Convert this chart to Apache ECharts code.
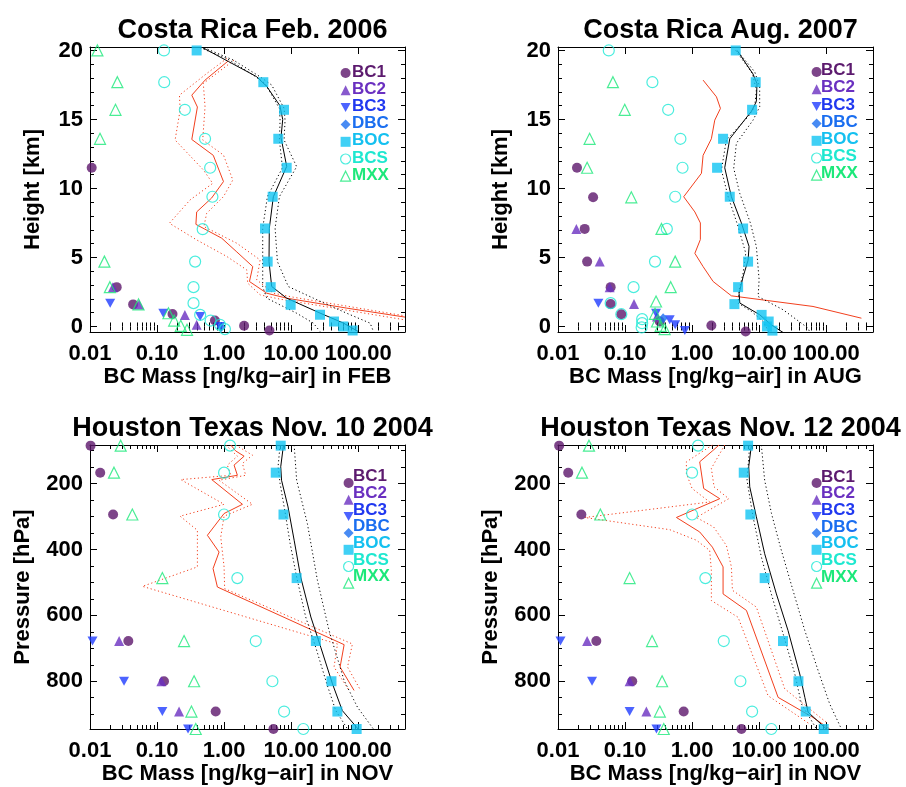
<!DOCTYPE html>
<html><head><meta charset="utf-8">
<script src="https://cdn.jsdelivr.net/npm/echarts@6/dist/echarts.min.js"></script>
<style>html,body{margin:0;padding:0;background:#fff}#c{width:906px;height:787px}</style>
</head><body><div id="c"></div>
<script>
// ---------- tick labels ----------
const X_TICKS = [0.01, 0.1, 1, 10, 100];
const X_MINOR = [0.02,0.03,0.04,0.05,0.06,0.07,0.08,0.09,0.2,0.3,0.4,0.5,0.6,0.7,0.8,0.9,2,3,4,5,6,7,8,9,20,30,40,50,60,70,80,90,200,300,400];
const KM_TICKS = [0, 5, 10, 15, 20];
const KM_MINOR = [1,2,3,4,6,7,8,9,11,12,13,14,16,17,18,19];
const P_TICKS = [200, 400, 600, 800];
const P_MINOR = [100,150,250,300,350,450,500,550,650,700,750,850,900];
const LEGEND_KEYS = ['BC1','BC2','BC3','DBC','BOC','BCS','MXX'];

// ---------- Costa Rica Feb 2006 : [mass, height km] ----------
const TL_BC1 = [[0.0106,11.5],[0.025,2.85],[0.044,1.6],[0.17,0.9],[0.73,0.43],[1.99,0.05],[4.75,-0.29]];
const TL_BC2 = [[0.022,2.85],[0.054,1.6],[0.26,0.84],[0.39,0.12]];
const TL_BC3 = [[0.020,1.69],[0.124,0.96],[0.44,0.72],[0.87,0.0]];
const TL_DBC = [[0.9,-0.05]];
const TL_BOC = [[0.39,20.0],[3.85,17.7],[7.83,15.7],[6.44,13.6],[8.59,11.5],[5.31,9.4],[4.08,7.1],[4.47,4.7],[4.96,2.85],[9.85,1.57],[27,0.85],[43.6,0.36],[60,0.0],[82.8,-0.29]];
const TL_BCS = [[0.127,20.0],[0.128,17.7],[0.26,15.7],[0.52,13.6],[0.62,11.5],[0.67,9.4],[0.48,7.05],[0.37,4.7],[0.35,2.85],[0.35,1.69],[0.44,0.84],[0.63,0.43],[0.87,0.12],[1.03,-0.19]];
const TL_MXX = [[0.0129,20.0],[0.0256,17.7],[0.024,15.7],[0.0141,13.6],[0.0164,4.7],[0.0198,2.85],[0.053,1.6],[0.148,0.96],[0.18,0.43],[0.226,0.05],[0.28,-0.24]];
const TL_MODEL = [[0.48,20.2],[1.16,19.2],[3.06,18.1],[4.32,17.4],[6.8,16.0],[7.5,15.0],[7.06,13.7],[8.6,11.6],[5.43,9.4],[4.73,7.1],[4.68,4.7],[5.13,2.9],[8.6,2.05],[27,0.97],[60,0.25],[100,-0.36]];
const TL_MODEL_LO = [[0.438,20.2],[1.10,19.42],[2.74,18.21],[4.09,17.61],[6.69,15.8],[6.85,14.95],[6.69,13.51],[7.43,11.5],[4.43,9.41],[3.77,7.12],[3.77,4.7],[3.77,2.89],[4.33,2.05],[12.1,0.96],[21.5,0.24],[27.0,-0.36]];
const TL_MODEL_HI = [[0.503,20.2],[1.38,19.3],[3.45,18.09],[5.14,17.49],[7.86,15.8],[8.12,14.95],[7.86,13.51],[12.1,11.58],[6.69,9.41],[5.77,7.12],[6.25,4.7],[9.1,2.89],[21.5,2.05],[67.5,0.96],[151,0.24],[169,-0.36]];
const TL_RED = [[1.16,19.25],[0.52,17.85],[0.33,16.76],[0.40,15.9],[0.33,13.55],[0.69,12.4],[0.98,10.5],[0.65,9.3],[0.39,8.3],[0.38,7.4],[0.92,6.4],[1.55,5.4],[2.68,4.34],[2.39,3.26],[4.33,2.41],[8.6,2.05],[67.6,1.33],[500,0.68]];
const TL_RED_LO = [[1.10,19.42],[0.551,18.33],[0.216,16.76],[0.221,15.68],[0.186,13.51],[0.492,11.34],[0.677,10.37],[0.311,9.17],[0.153,7.48],[0.391,6.27],[1.10,5.07],[2.18,4.10],[2.25,3.14],[3.45,2.29],[6.85,1.98],[500,0.48]];
const TL_RED_HI = [[1.41,19.3],[0.49,17.61],[0.52,15.92],[0.48,13.51],[0.98,12.42],[1.35,10.61],[0.98,9.41],[0.55,8.2],[0.50,7.24],[1.55,6.03],[3.45,4.82],[3.07,3.38],[5.45,2.41],[10.8,2.12],[500,0.77]];

// ---------- Costa Rica Aug 2007 ----------
const TR_BC1 = [[0.0192,11.5],[0.0334,9.36],[0.025,7.07],[0.0272,4.7],[0.061,2.85],[0.061,1.62],[0.088,0.89],[0.33,0.36],[1.94,0.07],[6.3,-0.36]];
const TR_BC2 = [[0.0188,7.07],[0.042,4.7],[0.059,2.85],[0.136,1.62],[0.30,0.72]];
const TR_BC3 = [[0.040,1.69],[0.29,0.96],[0.464,0.48],[0.56,0.12],[0.78,-0.29]];
const TR_DBC = [[0.37,0.6]];
const TR_BOC = [[4.48,20.0],[8.9,17.7],[7.86,15.7],[2.9,13.6],[2.36,11.5],[3.65,9.4],[5.77,7.1],[6.85,4.7],[4.86,2.85],[4.28,1.62],[10.9,0.84],[13.9,0.36],[13.1,0.0],[15.8,-0.3]];
const TR_BCS = [[0.0572,20.0],[0.256,17.7],[0.44,15.7],[0.67,13.6],[0.72,11.5],[0.56,9.4],[0.42,7.07],[0.28,4.7],[0.134,2.85],[0.061,1.69],[0.088,0.89],[0.18,0.53],[0.18,0.24],[0.177,-0.07]];
const TR_MXX = [[0.066,17.7],[0.099,15.7],[0.0296,13.6],[0.0272,11.5],[0.124,9.36],[0.35,7.07],[0.56,4.7],[0.48,2.85],[0.29,1.81],[0.28,0.92],[0.30,0.36],[0.34,0.05],[0.39,-0.19]];
const TR_MODEL = [[4.7,20.0],[8.1,18.3],[9.3,17.6],[9.1,16.3],[7.7,15.6],[3.65,13.6],[3.07,11.5],[3.86,9.4],[5.44,7.5],[7.08,5.8],[6.85,4.8],[5.77,3.6],[5.03,2.4],[5.15,1.7],[10.2,0.85],[15.2,0.12],[22.7,-0.43]];
const TR_MODEL_LO = [[4.48,20.0],[7.95,18.33],[9.1,17.12],[8.6,15.92],[6.85,15.2],[3.25,13.51],[2.74,11.34],[3.45,9.41],[4.86,7.24],[6.32,5.31],[5.77,3.86],[5.03,2.65],[4.86,1.69],[7.68,1.09],[11.5,0.36],[14.1,-0.43]];
const TR_MODEL_HI = [[4.86,19.9],[8.6,18.45],[10.2,17.37],[10.2,15.92],[8.12,14.95],[4.58,13.27],[4.18,11.46],[5.14,9.65],[7.43,7.48],[9.1,5.79],[10.0,3.38],[9.67,2.17],[22.8,1.21],[53.8,-0.12],[57.1,-0.43]];
const TR_RED = [[1.46,17.85],[2.31,16.64],[2.65,15.8],[2.18,14.95],[1.94,13.6],[1.46,12.4],[1.38,11.1],[0.75,9.4],[1.1,8.3],[1.33,7.5],[1.33,6.3],[1.1,5.3],[1.46,4.34],[2.06,3.26],[3.86,2.22],[63.7,1.45],[336,0.6]];

// ---------- Houston Nov 10 2004 : [mass, pressure hPa] ----------
const BL_BC1 = [[0.0102,85],[0.0142,167],[0.0221,294],[0.0373,678],[0.127,800],[0.75,892],[5.45,945]];
const BL_BC2 = [[0.0272,678],[0.116,800],[0.213,892]];
const BL_BC3 = [[0.0109,678],[0.0322,800],[0.12,892],[0.29,945]];
const BL_DBC = [];
const BL_BOC = [[7.0,85],[5.9,167],[7.7,294],[12.1,487],[23.4,678],[40,800],[49,892],[95,945]];
const BL_BCS = [[1.23,85],[1.0,167],[1.0,294],[1.58,487],[2.97,678],[5.26,800],[7.86,892],[15.2,945]];
const BL_MXX = [[0.0287,85],[0.0228,167],[0.0428,294],[0.12,487],[0.253,678],[0.357,800],[0.326,892],[0.378,945]];
const BL_MODEL = [[7.7,83],[7.0,149],[7.2,190],[9.0,271],[11.1,372],[13.9,484],[19.7,605],[27.7,697],[41.4,808],[58,889],[100,945]];
const BL_MODEL_LO = [[6.85,83],[6.39,149],[6.85,200],[8.04,281],[9.67,382],[12.1,484],[16.5,605],[23.3,697],[34.1,808],[46.3,889],[69.4,945]];
const BL_MODEL_HI = [[11.1,83],[12.1,190],[17.5,322],[24.7,494],[36.8,646],[61.8,798],[97.8,879],[169,945]];
const BL_RED = [[1.26,83],[1.49,101],[1.99,117],[1.41,144],[1.58,175],[0.655,188],[1.88,263],[1.0,291],[0.564,357],[0.842,408],[0.685,458],[0.795,514],[61.8,689],[53.8,757],[87,828]];
const BL_RED_LO = [[1.06,83],[1.58,117],[1.12,144],[1.26,175],[0.226,188],[1.0,263],[0.221,299],[0.40,342],[0.40,453],[0.0606,512],[49.2,687],[43.7,757],[73.3,828]];
const BL_RED_HI = [[1.49,83],[2.65,114],[1.88,139],[2.10,175],[0.842,190],[2.65,263],[1.0,299],[0.892,362],[1.0,453],[1.02,519],[82.1,687],[69.4,757],[109,828]];

// ---------- Houston Nov 12 2004 ----------
const BR_BC1 = [[0.0104,85],[0.0142,167],[0.0223,294],[0.0373,678],[0.128,800],[0.75,892],[5.45,945]];
const BR_BC2 = [[0.0272,678],[0.117,800],[0.208,892]];
const BR_BC3 = [[0.0109,678],[0.0322,800],[0.117,892],[0.294,945]];
const BR_DBC = [];
const BR_BOC = [[6.85,85],[5.9,167],[7.4,294],[12.1,487],[22.7,678],[38.6,800],[49.6,892],[92,945]];
const BR_BCS = [[1.23,85],[1.0,167],[1.0,294],[1.58,487],[2.97,678],[5.26,800],[7.86,892],[15.2,945]];
const BR_MXX = [[0.029,85],[0.0228,167],[0.0428,294],[0.117,487],[0.253,678],[0.357,800],[0.33,892],[0.378,945]];
const BR_MODEL = [[7.68,83],[7.0,149],[7.25,210],[9.1,301],[12.1,413],[18.1,535],[27.0,646],[40.4,778],[48.1,849],[53.8,894],[101,945]];
const BR_MODEL_LO = [[7.25,83],[6.6,190],[8.12,301],[10.8,423],[15.2,535],[22.8,656],[34.1,778],[42.8,869],[71.8,945]];
const BR_MODEL_HI = [[10.8,83],[12.1,190],[15.3,291],[20.8,393],[32,524],[48,646],[76,768],[113,869],[169,945]];
const BR_RED = [[2.53,83],[2.01,101],[1.30,134],[1.49,215],[2.59,246],[0.584,303],[1.30,347],[2.01,393],[2.90,453],[2.90,535],[6.47,585],[19.2,849],[63.7,910],[113,945]];
const BR_RED_LO = [[2.01,83],[0.823,134],[0.823,170],[1.0,215],[1.83,256],[0.0251,303],[0.464,340],[1.16,372],[1.83,403],[1.94,464],[1.94,555],[4.86,606],[13.6,844],[56.9,930]];
const BR_RED_HI = [[3.07,83],[1.94,154],[2.13,210],[3.52,246],[1.16,303],[2.10,332],[3.25,388],[3.86,453],[4.0,524],[9.1,575],[24.1,823],[101,925]];

// ---------- styles / layout ----------
const FONT = "'Liberation Sans', Arial, Helvetica, sans-serif";
const RED = '#f2401e';
const SYM = {
  BC1: {symbol:'circle', size:10, color:'#5c176c', text:'#5c1a6e'},
  BC2: {symbol:'triangle', size:10, color:'#6a30c0', text:'#6a30c0'},
  BC3: {symbol:'path://M0,0L10,0L5,9Z', size:[10,9], color:'#1f3cff', text:'#2038f0'},
  DBC: {symbol:'diamond', size:[9,10], color:'#1a6ef0', text:'#1a6ef0'},
  BOC: {symbol:'rect', size:10, color:'#10c4f2', text:'#14c0f0'},
  BCS: {symbol:'circle', size:11, color:'#1de8d6', text:'#1ee8d0', open:true},
  MXX: {symbol:'triangle', size:11, color:'#1ce87a', text:'#1ce87a', open:true}
};
const PANELS = [
  {title:'Costa Rica Feb. 2006', xname:'BC Mass [ng/kg\u2212air] in FEB', yname:'Height [km]', box:[90,47,315,285], titleTop:12,
   y:{min:-0.4,max:20.25,inverse:false,ticks:KM_TICKS,minor:KM_MINOR,nameGap:46},
   markers:{BC1:TL_BC1,BC2:TL_BC2,BC3:TL_BC3,DBC:TL_DBC,BOC:TL_BOC,BCS:TL_BCS,MXX:TL_MXX},
   lines:[[TL_RED_LO,RED,'dot'],[TL_RED_HI,RED,'dot'],[TL_RED,RED,'solid'],[TL_MODEL_LO,'#000','dot'],[TL_MODEL_HI,'#000','dot'],[TL_MODEL,'#000','solid']],
   legend:{textLeft:337, textTop:63.5, iconLeft:340, iconTop:64.5, gap:0.2}},
  {title:'Costa Rica Aug. 2007', xname:'BC Mass [ng/kg\u2212air] in AUG', yname:'Height [km]', box:[558,47,315,285], titleTop:12,
   y:{min:-0.4,max:20.25,inverse:false,ticks:KM_TICKS,minor:KM_MINOR,nameGap:46},
   markers:{BC1:TR_BC1,BC2:TR_BC2,BC3:TR_BC3,DBC:TR_DBC,BOC:TR_BOC,BCS:TR_BCS,MXX:TR_MXX},
   lines:[[TR_RED,RED,'solid'],[TR_MODEL_LO,'#000','dot'],[TR_MODEL_HI,'#000','dot'],[TR_MODEL,'#000','solid']],
   legend:{textLeft:806, textTop:62, iconLeft:811, iconTop:63.5, gap:0.2}},
  {title:'Houston Texas Nov. 10 2004', xname:'BC Mass [ng/kg\u2212air] in NOV', yname:'Pressure [hPa]', box:[90,445,315,284], titleTop:410,
   y:{min:83,max:945,inverse:true,ticks:P_TICKS,minor:P_MINOR,nameGap:56},
   markers:{BC1:BL_BC1,BC2:BL_BC2,BC3:BL_BC3,DBC:BL_DBC,BOC:BL_BOC,BCS:BL_BCS,MXX:BL_MXX},
   lines:[[BL_RED_LO,RED,'dot'],[BL_RED_HI,RED,'dot'],[BL_RED,RED,'solid'],[BL_MODEL_LO,'#000','dot'],[BL_MODEL_HI,'#000','dot'],[BL_MODEL,'#000','solid']],
   legend:{textLeft:338, textTop:468, iconLeft:343, iconTop:474.5, gap:-0.3}},
  {title:'Houston Texas Nov. 12 2004', xname:'BC Mass [ng/kg\u2212air] in NOV', yname:'Pressure [hPa]', box:[558,445,315,284], titleTop:410,
   y:{min:83,max:945,inverse:true,ticks:P_TICKS,minor:P_MINOR,nameGap:56},
   markers:{BC1:BR_BC1,BC2:BR_BC2,BC3:BR_BC3,DBC:BR_DBC,BOC:BR_BOC,BCS:BR_BCS,MXX:BR_MXX},
   lines:[[BR_RED_LO,RED,'dot'],[BR_RED_HI,RED,'dot'],[BR_RED,RED,'solid'],[BR_MODEL_LO,'#000','dot'],[BR_MODEL_HI,'#000','dot'],[BR_MODEL,'#000','solid']],
   legend:{textLeft:806, textTop:468.5, iconLeft:811, iconTop:474.5, gap:-0.3}}
];

const chart = echarts.init(document.getElementById('c'), null, {renderer:'canvas'});
const grids=[], xAxes=[], yAxes=[], series=[], titles=[], legends=[];
const axisLineStyle = {color:'#000', width:1};
const lblStyle = {color:'#000', fontSize:22, fontWeight:'bold', fontFamily:FONT};
const legendText = {fontSize:17, fontWeight:'bold', fontFamily:FONT, lineHeight:17};
const openStyle = s => ({color:'rgba(0,0,0,0)', borderColor:s.color, borderWidth:1.2});

PANELS.forEach((P, g) => {
  const [L,T,W,H] = P.box;
  grids.push({left:L, top:T, width:W, height:H, containLabel:false});
  titles.push({text:P.title, left:L+W/2, top:P.titleTop, textAlign:'center',
    textStyle:{fontSize:27, fontWeight:'bold', color:'#000', fontFamily:FONT}});
  const xb = xAxes.length;
  const xc = {gridIndex:g, type:'log', logBase:10, min:0.01, max:500, splitLine:{show:false}, minorTick:{show:false}};
  xAxes.push(Object.assign({}, xc, {position:'bottom',
    axisLine:{show:true,onZero:false,lineStyle:axisLineStyle},
    axisTick:{show:true,inside:true,length:7,customValues:X_TICKS,lineStyle:axisLineStyle},
    axisLabel:Object.assign({show:true,customValues:X_TICKS,margin:11,formatter:v=>Number(v).toFixed(2)}, lblStyle),
    name:P.xname, nameLocation:'middle', nameGap:33, nameTextStyle:lblStyle}));
  xAxes.push(Object.assign({}, xc, {position:'bottom', axisLine:{show:false},
    axisTick:{show:true,inside:true,length:4,customValues:X_MINOR,lineStyle:axisLineStyle}, axisLabel:{show:false}}));
  xAxes.push(Object.assign({}, xc, {position:'top', axisLine:{show:true,onZero:false,lineStyle:axisLineStyle},
    axisTick:{show:true,inside:true,length:7,customValues:X_TICKS,lineStyle:axisLineStyle}, axisLabel:{show:false}}));
  xAxes.push(Object.assign({}, xc, {position:'top', axisLine:{show:false},
    axisTick:{show:true,inside:true,length:4,customValues:X_MINOR,lineStyle:axisLineStyle}, axisLabel:{show:false}}));

  const yb = yAxes.length;
  const yc = {gridIndex:g, type:'value', min:P.y.min, max:P.y.max, inverse:P.y.inverse, splitLine:{show:false}};
  yAxes.push(Object.assign({}, yc, {position:'left',
    axisLine:{show:true,onZero:false,lineStyle:axisLineStyle},
    axisTick:{show:true,inside:true,length:7,customValues:P.y.ticks,lineStyle:axisLineStyle},
    axisLabel:Object.assign({show:true,customValues:P.y.ticks,margin:7}, lblStyle),
    name:P.yname, nameLocation:'middle', nameGap:P.y.nameGap, nameRotate:90, nameTextStyle:lblStyle}));
  yAxes.push(Object.assign({}, yc, {position:'left', axisLine:{show:false},
    axisTick:{show:true,inside:true,length:4,customValues:P.y.minor,lineStyle:axisLineStyle}, axisLabel:{show:false}}));
  yAxes.push(Object.assign({}, yc, {position:'right', axisLine:{show:true,onZero:false,lineStyle:axisLineStyle},
    axisTick:{show:true,inside:true,length:7,customValues:P.y.ticks,lineStyle:axisLineStyle}, axisLabel:{show:false}}));
  yAxes.push(Object.assign({}, yc, {position:'right', axisLine:{show:false},
    axisTick:{show:true,inside:true,length:4,customValues:P.y.minor,lineStyle:axisLineStyle}, axisLabel:{show:false}}));

  P.lines.forEach(([data,color,kind], k) => {
    series.push({type:'line', name:'profile'+g+'_'+k, xAxisIndex:xb, yAxisIndex:yb, data:data,
      symbol:'none', showSymbol:false, silent:true, z:2, clip:true,
      lineStyle:{color:color, width:1, type: kind==='dot' ? [1.2,2.6] : 'solid'}});
  });
  LEGEND_KEYS.forEach(k => {
    const s = SYM[k];
    series.push({type:'scatter', name:k, xAxisIndex:xb, yAxisIndex:yb, data:P.markers[k],
      symbol:s.symbol, symbolSize:s.size, z:3,
      itemStyle: s.open ? openStyle(s) : {color:s.color}});
  });
  // legend text (icons hidden)
  legends.push({orient:'vertical', left:P.legend.textLeft, top:P.legend.textTop, itemWidth:10, itemHeight:10,
    itemGap:P.legend.gap, selectedMode:false, padding:0, textStyle:legendText,
    data: LEGEND_KEYS.map(k => ({name:k, icon:'rect',
      itemStyle:{color:'rgba(0,0,0,0)', borderWidth:0}, textStyle:{color:SYM[k].text}}))});
  // legend symbols (text blank)
  legends.push({orient:'vertical', left:P.legend.iconLeft, top:P.legend.iconTop, itemWidth:10, itemHeight:10,
    itemGap:P.legend.gap, selectedMode:false, padding:0, textStyle:legendText, formatter:() => '\u00a0',
    data: LEGEND_KEYS.map(k => {
      const s = SYM[k];
      return {name:k, icon:s.symbol,
        itemStyle: s.open ? openStyle(s) : {color:s.color, borderWidth:0}};
    })});
});

chart.setOption({animation:false, backgroundColor:'#fff', title:titles, grid:grids,
  xAxis:xAxes, yAxis:yAxes, legend:legends, series:series});
</script></body></html>
